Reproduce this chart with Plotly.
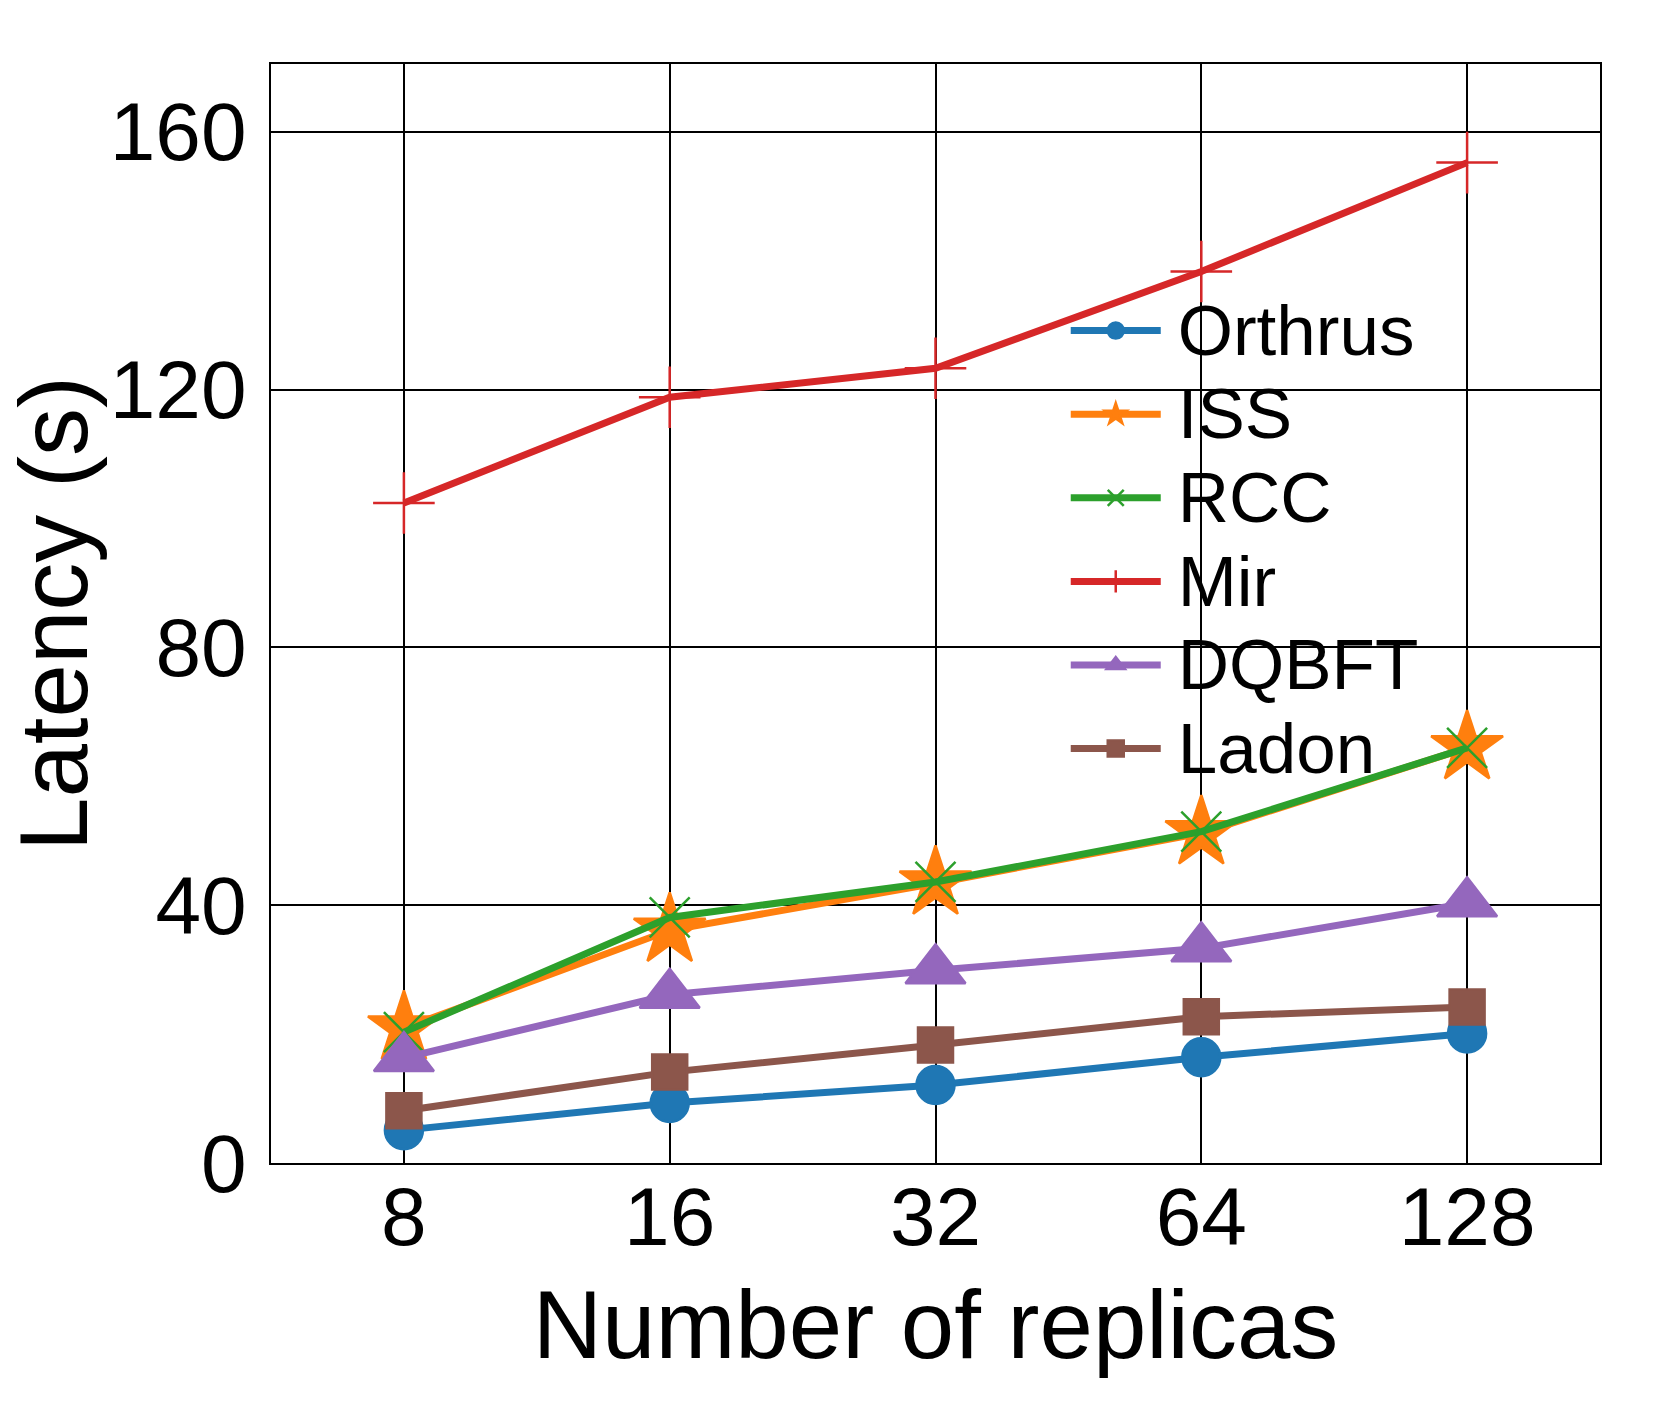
import plotly.graph_objects as go

# --- datos ---
replicas = ["8", "16", "32", "64", "128"]

orthrus = [5.1, 9.3, 12.1, 16.4, 20.1]
iss = [20.9, 36.1, 43.4, 51.2, 64.4]
rcc = [20.3, 38.1, 43.6, 51.4, 64.4]
mir = [102.4, 118.8, 123.3, 138.3, 155.2]
dqbft = [16.3, 26.1, 29.9, 33.3, 40.3]
ladon = [8.1, 14.1, 18.3, 22.7, 24.2]

series = [
    ("Orthrus", orthrus, "#1f77b4", "circle", 38),
    ("ISS", iss, "#ff7f0e", "star", 54),
    ("RCC", rcc, "#2ca02c", "x-thin-open", 40),
    ("Mir", mir, "#d62728", "cross-thin-open", 44),
    ("DQBFT", dqbft, "#9467bd", "triangle-up", 52),
    ("Ladon", ladon, "#8c564b", "square", 35),
]

FONT = "Liberation Sans, Arial, sans-serif"

fig = go.Figure()
for name, vals, color, symbol, size in series:
    fig.add_trace(go.Scatter(
        x=replicas,
        y=vals,
        # texto de leyenda más grande que el interlineado, con un pequeño hueco delante
        name="<span style='font-size:43px'>\u00a0</span><span style='font-size:71px'>%s</span>" % name,
        mode="lines+markers",
        line=dict(color=color, width=7),
        marker=dict(symbol=symbol, size=size, color=color,
                    line=dict(color=color, width=2.5)),
    ))

axis_common = dict(
    showgrid=True,
    gridcolor="black",
    gridwidth=1.5,
    showline=True,
    linecolor="black",
    linewidth=2,
    mirror=True,
    zeroline=False,
    automargin=False,
    ticks="",
    tickfont=dict(family=FONT, size=82, color="black"),
)

fig.update_layout(
    width=1661,
    height=1412,
    margin=dict(l=271, r=61, t=64, b=249),
    plot_bgcolor="white",
    paper_bgcolor="white",
    font=dict(family=FONT, color="black"),
    xaxis=dict(
        type="category",
        range=[-0.5, 4.5],
        title=dict(text="Number of replicas", font=dict(family=FONT, size=96), standoff=29),
        ticklabelstandoff=-18,
        **axis_common,
    ),
    yaxis=dict(
        range=[0, 170.5],
        tick0=0,
        dtick=40,
        title=dict(text="Latency (s)", font=dict(family=FONT, size=96), standoff=14),
        ticklabelstandoff=6,
        **axis_common,
    ),
    legend=dict(
        x=0.598,
        y=0.80,
        xanchor="left",
        yanchor="top",
        bgcolor="rgba(0,0,0,0)",
        borderwidth=0,
        itemwidth=90,
        font=dict(family=FONT, size=62, color="black"),
    ),
    showlegend=True,
)

# sin el margen por defecto del <body>, la figura ocupa toda la ventana
fig.write_html(
    "out.html",
    config={"displayModeBar": False},
    post_script="document.body.style.margin='0px';",
)
